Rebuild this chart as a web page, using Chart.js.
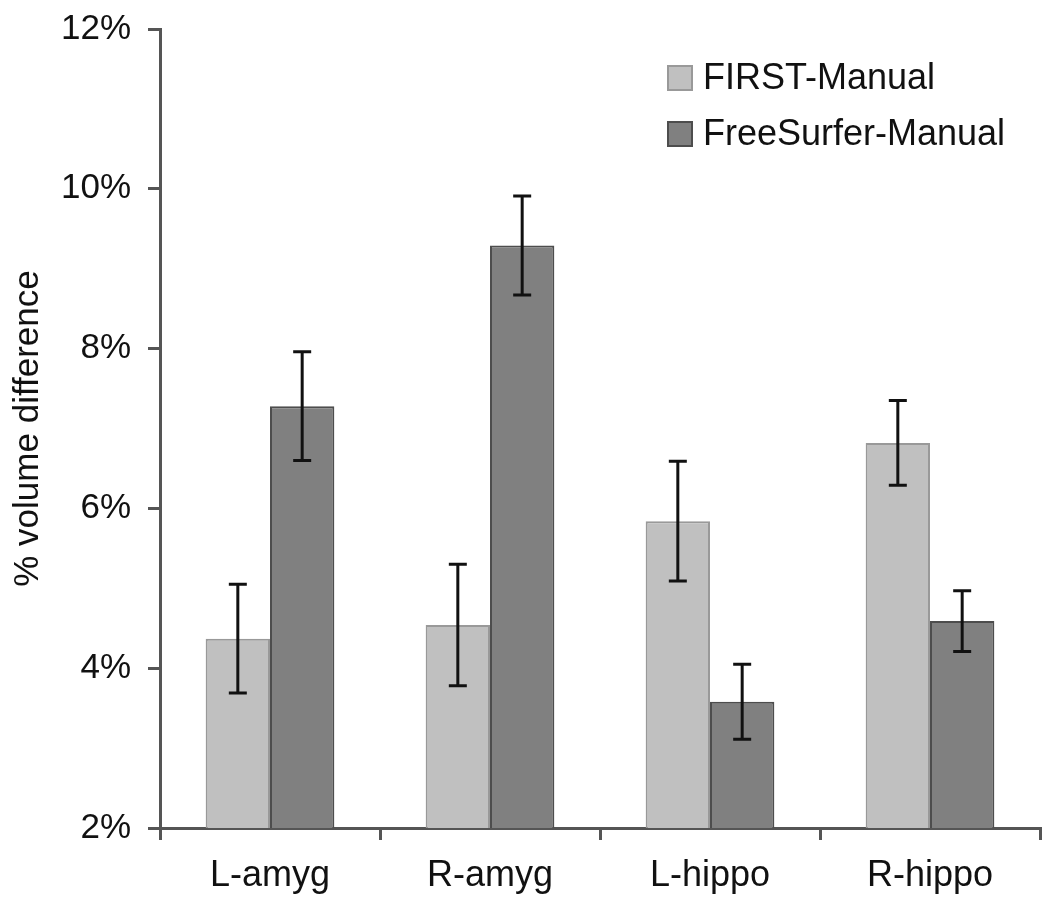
<!DOCTYPE html>
<html>
<head>
<meta charset="utf-8">
<script src="https://cdn.jsdelivr.net/npm/chart.js@4.4.1/dist/chart.umd.min.js"></script>
<style>
  html, body { margin: 0; padding: 0; background: #ffffff; }
  #wrap { width: 1050px; height: 906px; position: relative; }
</style>
</head>
<body>
<div id="wrap"><canvas id="c" width="1050" height="906"></canvas></div>
<script>
const categories = ['L-amyg', 'R-amyg', 'L-hippo', 'R-hippo'];
const seriesNames = ['FIRST-Manual', 'FreeSurfer-Manual'];
const firstValues = [4.37, 4.54, 5.84, 6.82];
const firstErrors = [0.68, 0.76, 0.75, 0.53];
const freesurferValues = [7.28, 9.29, 3.58, 4.59];
const freesurferErrors = [0.68, 0.62, 0.47, 0.38];
const yTicks = [2, 4, 6, 8, 10, 12];
const yTitle = '% volume difference';

const FONT = '"Liberation Sans", Arial, Helvetica, sans-serif';
const errors = [firstErrors, freesurferErrors];

const errorBarPlugin = {
  id: 'errorBars',
  afterDatasetsDraw(chart) {
    const ctx = chart.ctx;
    const yScale = chart.scales.y;
    ctx.save();
    ctx.strokeStyle = '#111111';
    ctx.lineWidth = 3;
    chart.data.datasets.forEach((ds, di) => {
      const meta = chart.getDatasetMeta(di);
      meta.data.forEach((bar, i) => {
        const v = ds.data[i];
        const e = errors[di][i];
        const x = bar.x;
        const yt = yScale.getPixelForValue(v + e);
        const yb = yScale.getPixelForValue(v - e);
        const cap = 9;
        ctx.beginPath();
        ctx.moveTo(x, yt); ctx.lineTo(x, yb);
        ctx.moveTo(x - cap, yt); ctx.lineTo(x + cap, yt);
        ctx.moveTo(x - cap, yb); ctx.lineTo(x + cap, yb);
        ctx.stroke();
      });
    });
    ctx.restore();
  }
};

const legendPlugin = {
  id: 'floatLegend',
  afterDraw(chart) {
    const ctx = chart.ctx;
    ctx.save();
    const x0 = 668, ys = [78, 134], box = 24;
    ctx.font = '36px ' + FONT;
    ctx.textBaseline = 'middle';
    chart.data.datasets.forEach((ds, i) => {
      const y = ys[i];
      ctx.fillStyle = ds.backgroundColor;
      ctx.fillRect(x0, y - box / 2, box, box);
      ctx.strokeStyle = ds.borderColor;
      ctx.lineWidth = 2;
      ctx.strokeRect(x0, y - box / 2, box, box);
      ctx.fillStyle = '#111111';
      ctx.fillText(ds.label, 703, y + 1);
    });
    ctx.restore();
  }
};

new Chart(document.getElementById('c'), {
  type: 'bar',
  data: {
    labels: categories,
    datasets: [
      { label: seriesNames[0], data: firstValues, backgroundColor: '#c0c0c0', borderColor: '#999999', borderWidth: 2 },
      { label: seriesNames[1], data: freesurferValues, backgroundColor: '#808080', borderColor: '#4d4d4d', borderWidth: 2 }
    ]
  },
  options: {
    responsive: false,
    animation: false,
    devicePixelRatio: 1,
    layout: { padding: { left: 0, right: 10, top: 29, bottom: 0 } },
    datasets: { bar: { categoryPercentage: 0.585, barPercentage: 1.0 } },
    plugins: {
      legend: { display: false },
      tooltip: { enabled: false }
    },
    scales: {
      x: {
        afterFit(scale) { scale.height = 78; scale.paddingLeft = 0; scale.paddingRight = 0; },
        grid: { offset: true, drawOnChartArea: false, drawTicks: true, tickLength: 12, color: '#555555', lineWidth: 3 },
        border: { color: '#555555', width: 3 },
        ticks: { color: '#111111', font: { family: FONT, size: 36 }, padding: 14 }
      },
      y: {
        min: 2, max: 12,
        afterFit(scale) { scale.width = 160; scale.paddingTop = 0; scale.paddingBottom = 0; },
        afterBuildTicks(scale) { scale.ticks = yTicks.map(v => ({ value: v })); },
        grid: { drawOnChartArea: false, drawTicks: true, tickLength: 12, color: '#555555', lineWidth: 3 },
        border: { color: '#555555', width: 3 },
        ticks: { color: '#111111', font: { family: FONT, size: 35 }, padding: 17, callback: v => v + '%' },
        title: { display: true, text: yTitle, color: '#111111', font: { family: FONT, size: 35 }, padding: { top: 7, bottom: 0 } }
      }
    }
  },
  plugins: [errorBarPlugin, legendPlugin]
});
</script>
</body>
</html>
